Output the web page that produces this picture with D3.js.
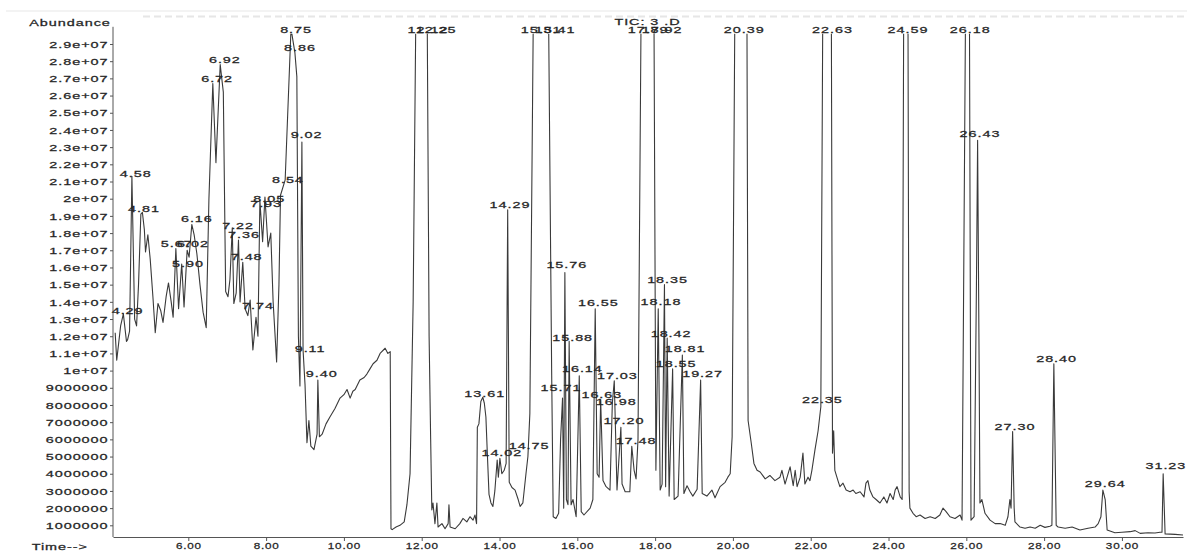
<!DOCTYPE html>
<html>
<head>
<meta charset="utf-8">
<script src="https://cdn.jsdelivr.net/npm/d3@7"></script>
<style>
  html, body { margin: 0; padding: 0; background: #fff; }
  svg { display: block; }
  text { font-family: "Liberation Sans", Arial, sans-serif; font-size: 9px; fill: #262626; stroke: #262626; stroke-width: 0.25px; letter-spacing: 0.6px; }
</style>
</head>
<body>
<svg id="chart" width="1187" height="552"></svg>
<script>
// retention time (min) and abundance (millions of counts)
const retentionTimes = [
  4.12, 4.16, 4.26, 4.33, 4.41, 4.44, 4.49, 4.55, 4.62, 4.67, 4.72, 4.78, 4.82, 4.87, 4.90, 4.96,
  5.02, 5.09, 5.15, 5.22, 5.29, 5.35, 5.43, 5.49, 5.56, 5.61, 5.68, 5.75, 5.83, 5.89, 5.97,
  6.02, 6.09, 6.15, 6.22, 6.30, 6.38, 6.46, 6.53, 6.63, 6.71, 6.82, 6.90, 6.96,
  7.02, 7.07, 7.13, 7.17, 7.23, 7.29, 7.33, 7.40, 7.46, 7.53, 7.59, 7.66, 7.74, 7.79, 7.84, 7.91, 7.97,
  8.05, 8.12, 8.18, 8.27, 8.33, 8.37, 8.49, 8.64, 8.69, 8.74, 8.79, 8.83, 8.87, 8.92, 8.95,
  9.00, 9.05, 9.10, 9.15, 9.23, 9.31, 9.33, 9.37, 9.44, 9.54, 9.64, 9.77, 9.90,
  10.00, 10.08, 10.16, 10.23, 10.29, 10.41, 10.52, 10.59, 10.67, 10.75, 10.85, 10.93,
  11.06, 11.13, 11.19, 11.21, 11.24, 11.34, 11.44, 11.55, 11.62, 11.70, 11.78, 11.85,
  12.14, 12.19, 12.23, 12.26, 12.29, 12.34, 12.39, 12.42, 12.52, 12.60, 12.68, 12.70, 12.73, 12.86, 12.98,
  13.06, 13.16, 13.24, 13.32, 13.37, 13.41, 13.43, 13.47, 13.52, 13.57, 13.61, 13.65, 13.69, 13.73, 13.78, 13.83, 13.88, 13.94, 13.97,
  14.01, 14.06, 14.12, 14.17, 14.21, 14.25, 14.32, 14.40, 14.48, 14.53, 14.60, 14.68, 14.73, 14.78, 14.87,
  15.26, 15.34, 15.38, 15.45, 15.52, 15.57, 15.62, 15.65, 15.68, 15.72, 15.76, 15.79, 15.84, 15.89, 15.97,
  16.05, 16.10, 16.17, 16.33, 16.40, 16.46, 16.51, 16.56, 16.60, 16.66, 16.74, 16.84, 16.90, 16.95,
  17.02, 17.12, 17.15, 17.23, 17.35, 17.40, 17.46, 17.51, 17.56, 17.64, 17.97,
  18.02, 18.08, 18.13, 18.18, 18.24, 18.27, 18.31, 18.36, 18.45, 18.49, 18.59, 18.70, 18.74, 18.82, 18.90, 18.97,
  19.08, 19.17, 19.21, 19.33, 19.46, 19.54, 19.67, 19.80, 19.87, 19.93, 19.98,
  20.05, 20.36, 20.39, 20.47, 20.54, 20.62, 20.70, 20.83, 20.95,
  21.08, 21.21, 21.26, 21.34, 21.47, 21.55, 21.60, 21.65, 21.73, 21.80, 21.85, 21.93, 21.98,
  22.03, 22.11, 22.19, 22.26, 22.31, 22.53, 22.56, 22.59, 22.62, 22.70, 22.75, 22.83, 22.91,
  23.01, 23.09, 23.16, 23.27, 23.37, 23.42, 23.47, 23.52, 23.60, 23.68, 23.78, 23.88, 23.96,
  24.04, 24.12, 24.17, 24.22, 24.30, 24.35, 24.39, 24.50, 24.53, 24.55, 24.63, 24.71, 24.81, 24.94,
  25.07, 25.20, 25.32, 25.40, 25.48, 25.58, 25.71, 25.84, 25.89, 25.98,
  26.08, 26.12, 26.20, 26.26, 26.29, 26.33, 26.35, 26.40, 26.48, 26.61, 26.74, 26.87,
  27.00, 27.07, 27.12, 27.15, 27.19, 27.23, 27.25, 27.38, 27.51, 27.64, 27.77, 27.90,
  28.02, 28.15, 28.20, 28.25, 28.31, 28.36, 28.54, 28.72, 28.92,
  29.13, 29.31, 29.39, 29.46, 29.51, 29.57, 29.62, 29.82,
  30.00, 30.21, 30.34, 30.47, 30.67, 30.85, 30.98,
  31.03, 31.06, 31.11, 31.37, 31.57
]

const abundances = [
  12.2, 10.6, 12.6, 13.3, 11.7, 11.8, 12.3, 21.3, 13.0, 12.6, 15.0, 19.1, 19.2, 18.2, 16.9, 17.9,
  16.5, 14.3, 12.2, 13.9, 13.5, 12.8, 14.3, 15.1, 14.0, 13.1, 17.1, 13.6, 16.2, 13.7, 17.0,
  16.6, 18.5, 17.9, 16.8, 15.0, 13.4, 12.5, 20.0, 26.7, 22.1, 27.8, 26.2, 14.6,
  14.3, 15.3, 18.3, 13.9, 14.5, 17.6, 14.0, 16.3, 13.6, 13.2, 14.1, 11.2, 13.1, 12.0, 19.9, 17.5, 20.1,
  17.2, 18.0, 14.0, 10.5, 15.0, 20.2, 21.1, 29.9, 29.2, 28.5, 27.1, 12.0, 9.1, 23.3, 11.2,
  9.2, 5.8, 7.1, 5.6, 5.4, 6.3, 9.45, 6.15, 6.3, 6.9, 7.3, 7.8, 8.4,
  8.6, 8.9, 8.4, 8.8, 8.9, 9.45, 9.6, 9.8, 10.1, 10.4, 10.6, 11.0,
  11.3, 11.0, 11.1, 0.8, 0.75, 0.9, 1.0, 1.2, 2.2, 4.0, 14, 31,
  31, 12, 6.0, 1.9, 2.3, 1.1, 2.3, 0.9, 1.1, 0.8, 1.1, 2.2, 0.9, 0.8, 1.1,
  1.4, 1.2, 1.5, 1.3, 1.6, 1.1, 6.7, 6.9, 8.2, 8.45, 8.1, 7.3, 5.0, 2.8, 2.3, 2.1, 3.0, 4.8, 3.8,
  4.9, 4.0, 4.2, 4.6, 19.35, 3.5, 3.2, 3.05, 2.5, 2.1, 2.3, 4.0, 5.0, 7.5, 31,
  31, 10.0, 1.5, 1.4, 1.7, 6.0, 8.4, 2.0, 15.7, 2.5, 2.2, 11.7, 2.2, 2.5, 1.5,
  9.7, 1.8, 1.6, 2.0, 2.5, 13.6, 4.0, 3.8, 8.3, 3.6, 3.25, 3.05, 8.1, 9.4,
  3.05, 6.7, 3.4, 2.95, 2.95, 5.6, 4.2, 3.7, 6.0, 31, 31,
  4.2, 13.6, 3.05, 3.4, 15.0, 3.25, 11.9, 2.7, 10.1, 2.5, 2.7, 10.9, 2.85, 3.3, 2.95, 2.7,
  3.1, 9.45, 2.85, 2.7, 3.05, 2.6, 3.25, 3.5, 3.8, 4.0, 6.15,
  31, 31, 7.1, 5.8, 4.6, 4.2, 4.1, 3.7, 3.9,
  3.6, 3.8, 4.2, 3.4, 4.4, 3.3, 4.2, 3.25, 3.8, 5.2, 3.4, 3.8, 3.6,
  4.2, 5.4, 6.5, 7.9, 31, 31, 5.2, 6.5, 4.2, 3.6, 3.25, 3.45, 3.05,
  2.95, 3.05, 2.85, 2.95, 2.65, 3.45, 3.6, 3.05, 2.65, 2.5, 2.3, 2.65, 2.3,
  2.85, 2.5, 3.05, 3.25, 2.65, 2.5, 31, 31, 2.95, 2.0, 1.7, 1.5, 1.6, 1.4,
  1.5, 1.4, 1.6, 2.0, 1.8, 1.5, 1.4, 1.6, 1.3, 31,
  31, 1.3, 1.5, 15, 23.4, 10, 2.3, 2.5, 1.7, 1.3, 1.1, 1.1,
  1.0, 1.5, 2.5, 2.0, 6.45, 2.0, 1.2, 0.9, 0.83, 0.9, 0.83, 1.0,
  0.88, 0.95, 1.0, 10.4, 1.0, 0.9, 0.83, 0.9, 0.73,
  0.83, 0.9, 1.1, 1.5, 3.05, 2.5, 0.73, 0.57,
  0.6, 0.63, 0.69, 0.53, 0.57, 0.55, 0.6,
  0.6, 4.0, 0.5, 0.47, 0.44
]

// peak annotations: text and where it sits (time, abundance in millions)
const labelTexts = [
  '4.29', '4.58', '4.81', '5.67', '6.02', '5.90', '6.16', '6.72', '6.92', '7.22', '7.36', '7.48', '7.74',
  '7.93', '8.05', '8.54', '8.75', '8.86', '9.02', '9.11', '9.40',
  '12.12', '12.25', '13.61', '14.02', '14.29', '14.75', '15.31', '15.41', '15.71', '15.76', '15.88',
  '16.14', '16.55', '16.63', '16.98', '17.03', '17.20', '17.48', '17.89', '17.92',
  '18.35', '18.18', '18.42', '18.81', '18.55', '19.27', '20.39',
  '22.35', '22.63', '24.59', '26.18', '26.43', '27.30', '28.40', '29.64', '31.23'
]
const labelTimes = [
  4.44, 4.65, 4.86, 5.70, 6.12, 5.99, 6.22, 6.74, 6.94, 7.28, 7.43, 7.50, 7.79,
  8.00, 8.08, 8.56, 8.77, 8.87, 9.04, 9.13, 9.43,
  12.16, 12.37, 13.62, 14.06, 14.27, 14.76, 15.07, 15.43, 15.58, 15.73, 15.88,
  16.13, 16.54, 16.63, 17.00, 17.03, 17.20, 17.51, 17.82, 18.18,
  18.32, 18.15, 18.41, 18.77, 18.54, 19.22, 20.29,
  22.30, 22.56, 24.50, 26.10, 26.35, 27.25, 28.32, 29.57, 31.13
]
const labelHeights = [
  13.27, 21.28, 19.24, 17.21, 17.21, 16.04, 18.66, 26.81, 27.88, 18.22, 17.70, 16.43, 13.58,
  19.53, 19.82, 20.93, 29.62, 28.61, 23.51, 11.10, 9.61,
  29.62, 29.62, 8.45, 5.05, 19.44, 5.44, 29.62, 29.62, 8.83, 15.95, 11.74,
  9.90, 13.76, 8.39, 8.00, 9.51, 6.89, 5.73, 29.62, 29.62,
  15.08, 13.82, 11.97, 11.06, 10.19, 9.61, 29.62,
  8.10, 29.62, 29.62, 29.62, 23.57, 6.54, 10.52, 3.21, 4.28
]

const xMajorTicks = [6, 8, 10, 12, 14, 16, 18, 20, 22, 24, 26, 28, 30]
const xMinorTicks = d3.range(4.4, 31.3, 0.4)
const yTicks = d3.range(1, 30, 1)

const title = 'TIC: 3 .D',
      yTitle = 'Abundance',
      xTitle = 'Time-->'

// %g style, like the instrument print-out
function _gfmt(m) {
  let v = Math.round(m * 1e6)
  if (v < 1e7) return String(v)
  let mant = +(v / 1e7).toFixed(1)
  return (mant % 1 === 0 ? mant.toFixed(0) : String(mant)) + 'e+07'
}

function _text(g, s, x, y, anchor, sx) {
  return g.append('text')
    .attr('transform', 'translate(' + x + ',' + y + ') scale(' + sx + ',1)')
    .attr('text-anchor', anchor)
    .text(s)
}

function _make() {
  let svg = d3.select('#chart'),
      x   = d3.scaleLinear().domain([4.064, 31.57]).range([113, 1183]),
      y   = d3.scaleLinear().domain([0.32, 30]).range([537, 26.8]),
      ink = '#3a3a3a'

  // faint scan artefacts along the top
  svg.append('line')
    .attr('x1', 6).attr('x2', 1187).attr('y1', 11).attr('y2', 11)
    .attr('stroke', '#f3f3f3').attr('stroke-width', 2)
  svg.append('line')
    .attr('x1', 143).attr('x2', 1187).attr('y1', 16.5).attr('y2', 16.5)
    .attr('stroke', '#e6e6e6').attr('stroke-width', 2)
    .attr('stroke-dasharray', '7 4')

  svg.append('defs').append('clipPath').attr('id', 'plot-clip')
    .append('rect')
      .attr('x', x.range()[0]).attr('y', y(29.6))
      .attr('width', 1187 - x.range()[0]).attr('height', 545 - y(29.6))

  // x axis
  let gx = svg.append('g').attr('transform', 'translate(0,537)')
  gx.call(d3.axisBottom(x).tickValues(xMinorTicks).tickSize(2).tickSizeOuter(0).tickFormat(''))
  gx.call(d3.axisBottom(x).tickValues(xMajorTicks).tickSize(4).tickSizeOuter(0).tickFormat(d3.format('.2f')))
  gx.selectAll('path, line').attr('stroke', '#555')
  gx.selectAll('text')
    .attr('y', 0).attr('dy', null)
    .attr('transform', 'translate(0,12) scale(1.3,1)')
    .attr('font-size', 9).attr('font-family', null)
    .style('fill', '#262626')

  // y axis
  let gy = svg.append('g').attr('transform', 'translate(113,0)')
  gy.call(d3.axisLeft(y).tickValues(yTicks).tickSize(3).tickSizeOuter(0).tickFormat(_gfmt))
  gy.select('path').attr('d', 'M0,' + y(30) + 'V537')
  gy.selectAll('path, line').attr('stroke', '#555')
  gy.selectAll('text')
    .attr('x', -4.5 / 1.6).attr('dy', null)
    .attr('transform', 'translate(0,3.2) scale(1.6,1)')
    .attr('font-size', 9).attr('font-family', null)
    .style('fill', '#262626')

  // the trace
  let pts  = retentionTimes.map((t, i) => [t, abundances[i]]),
      line = d3.line().x(d => x(d[0])).y(d => y(d[1]))

  svg.append('path')
    .datum(pts)
    .attr('clip-path', 'url(#plot-clip)')
    .attr('fill', 'none')
    .attr('stroke', ink)
    .attr('stroke-width', 1.1)
    .attr('stroke-linejoin', 'round')
    .attr('d', line)

  // peak labels
  let gl = svg.append('g').attr('class', 'peaks')
  labelTexts.forEach((s, i) => {
    _text(gl, s, x(labelTimes[i]), y(labelHeights[i]), 'middle', 1.6)
  })

  // titles
  _text(svg, yTitle, 29.3, 26, 'start', 1.6)
  _text(svg, xTitle, 31.7, 550, 'start', 1.6)
  _text(svg, title, 647.5, 25, 'middle', 1.6)
}

_make()
</script>
</body>
</html>
